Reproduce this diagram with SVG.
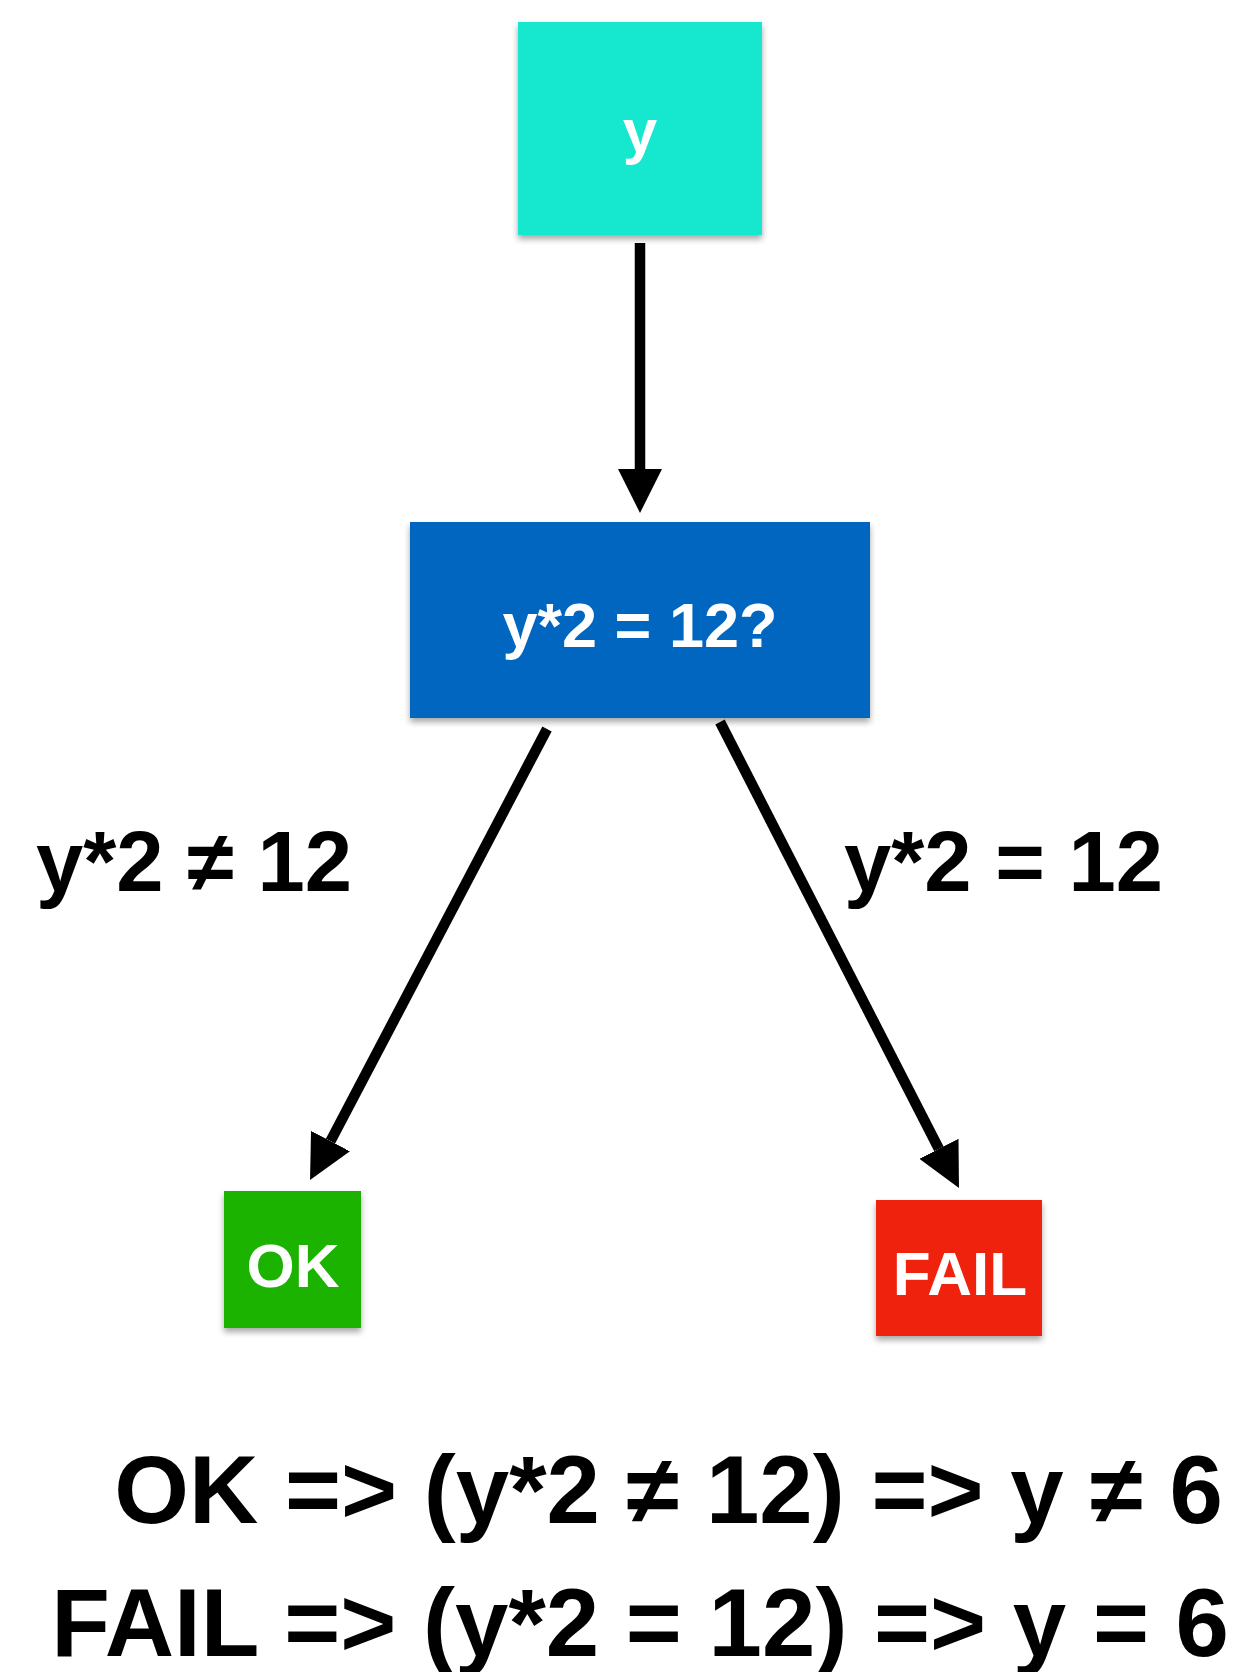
<svg xmlns="http://www.w3.org/2000/svg" width="1235" height="1672" viewBox="0 0 1235 1672">
<style>
.t{font-family:"Liberation Sans",Arial,sans-serif;font-weight:bold}
.nt{fill:#ffffff;font-size:62px;text-anchor:middle}
.lbl{fill:#000000;font-size:85px}
.big{fill:#000000;font-size:96px;text-anchor:end}
.edge{stroke:#000000;stroke-width:10.5;fill:none;marker-end:url(#ah)}
</style>
<defs>
<filter id="sh" x="-10%" y="-10%" width="120%" height="130%">
<feDropShadow dx="0" dy="4" stdDeviation="3" flood-color="#000000" flood-opacity="0.35"/>
</filter>
<marker id="ah" markerUnits="userSpaceOnUse" markerWidth="44" markerHeight="44" refX="0" refY="22" orient="auto" viewBox="0 0 44 44">
<path d="M0,0 L44,22 L0,44 Z" fill="#000000"/>
</marker>
</defs>
<rect width="1235" height="1672" fill="#ffffff"/>
<g id="connectors">
<line class="edge" x1="640" y1="243" x2="640" y2="469"/>
<line class="edge" x1="547" y1="729" x2="330.5" y2="1141.1"/>
<line class="edge" x1="720" y1="722" x2="938.9" y2="1148.8"/>
</g>
<g id="node-y">
<rect x="518" y="22" width="244" height="213" fill="#17E8D0" filter="url(#sh)"/>
<text class="t nt" x="640" y="152">y</text>
</g>
<g id="node-check">
<rect x="410" y="522" width="460" height="196" fill="#0566C0" filter="url(#sh)"/>
<text class="t nt" x="640" y="647" style="font-size:63px">y*2 = 12?</text>
</g>
<g id="node-ok">
<rect x="224" y="1191" width="137" height="137" fill="#1FB200" filter="url(#sh)"/>
<text class="t nt" x="293" y="1287">OK</text>
</g>
<g id="node-fail">
<rect x="876" y="1200" width="166" height="136" fill="#EE2311" filter="url(#sh)"/>
<text class="t nt" x="960" y="1295">FAIL</text>
</g>
<g id="edge-labels">
<text class="t lbl" x="36" y="891">y*2 ≠ 12</text>
<text class="t lbl" x="844" y="891">y*2 = 12</text>
</g>
<g id="summary">
<text class="t big" x="1223" y="1523">OK =&gt; (y*2 ≠ 12) =&gt; y ≠ 6</text>
<text class="t big" x="1229" y="1656">FAIL =&gt; (y*2 = 12) =&gt; y = 6</text>
</g>
</svg>
